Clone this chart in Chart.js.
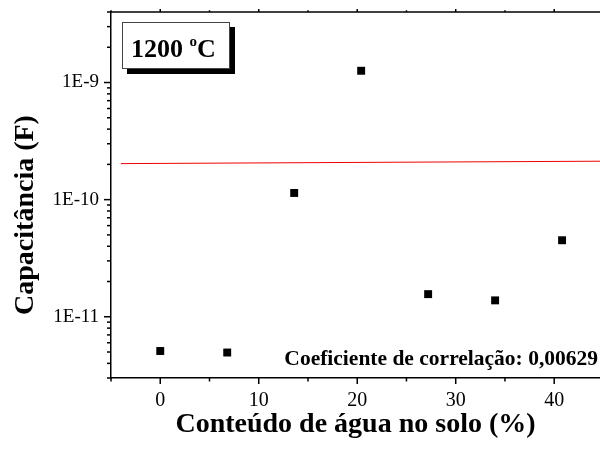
<!DOCTYPE html>
<html>
<head>
<meta charset="utf-8">
<script src="https://cdn.jsdelivr.net/npm/chart.js@4.4.0/dist/chart.umd.min.js"></script>
<style>
  html, body { margin: 0; padding: 0; background: #fff; overflow: hidden; }
  #wrap { position: relative; width: 600px; height: 454px; }
</style>
</head>
<body>
<div id="wrap"><canvas id="capChart" width="600" height="454"></canvas></div>
<script>
// water content (%) and measured capacitance (F)
const waterContent = [0, 6.8, 13.6, 20.4, 27.2, 34.0, 40.8]
const capacitance = [5.1e-12, 4.95e-12, 1.14e-10, 1.26e-9, 1.56e-11, 1.38e-11, 4.5e-11]

// linear fit line (ends)
const fitX = [-4, 45]
const fitY = [2.03e-10, 2.13e-10]

// axes
const xTicks = [0, 10, 20, 30, 40]
const yTicks = [1e-11, 1e-10, 1e-9]
const yTickLabels = ['1E-11', '1E-10', '1E-9']
const xMin = -5, xMax = 44.65
const yMin = 3e-12, yMax = 4e-9

const panelLabel = '1200'
const corrText = 'Coeficiente de correlação: 0,00629'
const yTitle = 'Capacitância (F)'
const serif = "'Liberation Serif', 'Times New Roman', serif"

Chart.defaults.font.family = serif
Chart.defaults.color = '#000'

//draws the frame ticks, the top border, the y title, the label box and the correlation text
const decorPlugin = {
    id: 'decor',
    afterDraw(chart) {
        const ctx = chart.ctx
        const area = chart.chartArea
        const xs = chart.scales.x, ys = chart.scales.y
        ctx.save()
        ctx.strokeStyle = '#000'
        ctx.lineWidth = 1.5

        //top border
        ctx.beginPath()
        ctx.moveTo(area.left - 0.75, area.top)
        ctx.lineTo(area.right, area.top)
        ctx.stroke()

        //x ticks (major every 10, minor every 5)
        for (let v = -5; v <= 45; v += 5) {
            if (v < xMin || v > xMax) continue
            const px = xs.getPixelForValue(v)
            const len = v % 10 === 0 ? 6 : 3.5
            ctx.beginPath()
            ctx.moveTo(px, area.bottom)
            ctx.lineTo(px, area.bottom + len)
            ctx.moveTo(px, area.top)
            ctx.lineTo(px, area.top - len / 2)
            ctx.stroke()
        }

        //y ticks (decades + minors)
        for (let e = -13; e <= -8; e++) {
            for (let m = 1; m <= 9; m++) {
                const v = m * Math.pow(10, e)
                if (v < yMin || v > yMax) continue
                const py = ys.getPixelForValue(v)
                const len = m === 1 ? 7 : 4
                ctx.beginPath()
                ctx.moveTo(area.left - len, py)
                ctx.lineTo(area.left, py)
                ctx.stroke()
            }
        }

        //y axis title
        ctx.fillStyle = '#000'
        ctx.save()
        ctx.translate(33, 215)
        ctx.rotate(-Math.PI / 2)
        ctx.font = 'bold 28px ' + serif
        ctx.textAlign = 'center'
        ctx.textBaseline = 'alphabetic'
        ctx.fillText(yTitle, 0, 0)
        ctx.restore()

        //label box with shadow
        const bx = area.left + 11, by = area.top + 10, bw = 107, bh = 46
        ctx.fillStyle = '#000'
        ctx.fillRect(bx + 5, by + 5, bw + 1, bh + 1)
        ctx.fillStyle = '#fff'
        ctx.fillRect(bx, by, bw, bh)
        ctx.lineWidth = 1
        ctx.strokeStyle = '#444'
        ctx.strokeRect(bx + 0.5, by + 0.5, bw, bh)

        ctx.fillStyle = '#000'
        ctx.textBaseline = 'alphabetic'
        ctx.textAlign = 'left'
        ctx.font = 'bold 26px ' + serif
        let tx = bx + 9
        const base = by + 35
        ctx.fillText(panelLabel, tx, base)
        tx += ctx.measureText(panelLabel + ' ').width
        ctx.font = 'bold 15px ' + serif
        ctx.fillText('o', tx, base - 11)
        tx += ctx.measureText('o').width
        ctx.font = 'bold 26px ' + serif
        ctx.fillText('C', tx, base)

        //correlation coefficient
        ctx.font = 'bold 21.5px ' + serif
        ctx.textAlign = 'right'
        ctx.fillText(corrText, area.right - 2, area.bottom - 13)
        ctx.restore()
    }
}

const capChart = new Chart(document.getElementById('capChart'), {
    type: 'scatter',
    data: {
        datasets: [{
            label: 'Capacitância',
            data: waterContent.map((x, i) => ({ x: x, y: capacitance[i] })),
            pointStyle: 'rect',
            pointRadius: 5.6,
            pointBorderWidth: 0,
            backgroundColor: '#000',
            borderColor: '#000'
        }, {
            label: 'Ajuste linear',
            type: 'line',
            data: fitX.map((x, i) => ({ x: x, y: fitY[i] })),
            borderColor: '#f00000',
            borderWidth: 1,
            pointRadius: 0,
            fill: false
        }]
    },
    options: {
        responsive: false,
        animation: false,
        devicePixelRatio: 1,
        layout: { autoPadding: false, padding: { top: 12, right: 0, left: 0, bottom: 0 } },
        plugins: {
            legend: { display: false },
            tooltip: { enabled: false }
        },
        scales: {
            x: {
                type: 'linear',
                min: xMin,
                max: xMax,
                grid: { display: false },
                border: { display: true, color: '#000', width: 1.5 },
                afterBuildTicks: (scale) => { scale.ticks = xTicks.map(v => ({ value: v })) },
                afterFit: (scale) => {
                    scale.height = 76
                    scale.paddingLeft = 0
                    scale.paddingRight = 0
                },
                ticks: {
                    padding: 3,
                    font: { size: 20 },
                    color: '#000',
                    maxRotation: 0,
                    autoSkip: false
                },
                title: {
                    display: true,
                    text: 'Conteúdo de água no solo (%)',
                    font: { size: 28, weight: 'bold' },
                    color: '#000',
                    padding: { top: 0, bottom: 12 }
                }
            },
            y: {
                type: 'logarithmic',
                min: yMin,
                max: yMax,
                grid: { display: false },
                border: { display: true, color: '#000', width: 1.5 },
                afterBuildTicks: (scale) => { scale.ticks = yTicks.map(v => ({ value: v })) },
                afterFit: (scale) => {
                    scale.width = 111
                    scale.paddingTop = 0
                    scale.paddingBottom = 0
                },
                ticks: {
                    padding: 4,
                    font: { size: 19 },
                    color: '#000',
                    autoSkip: false,
                    callback: (v) => {
                        const i = yTicks.findIndex(t => Math.abs(t - v) / t < 1e-6)
                        return i >= 0 ? yTickLabels[i] : ''
                    }
                }
            }
        }
    },
    plugins: [decorPlugin]
})
</script>
</body>
</html>
